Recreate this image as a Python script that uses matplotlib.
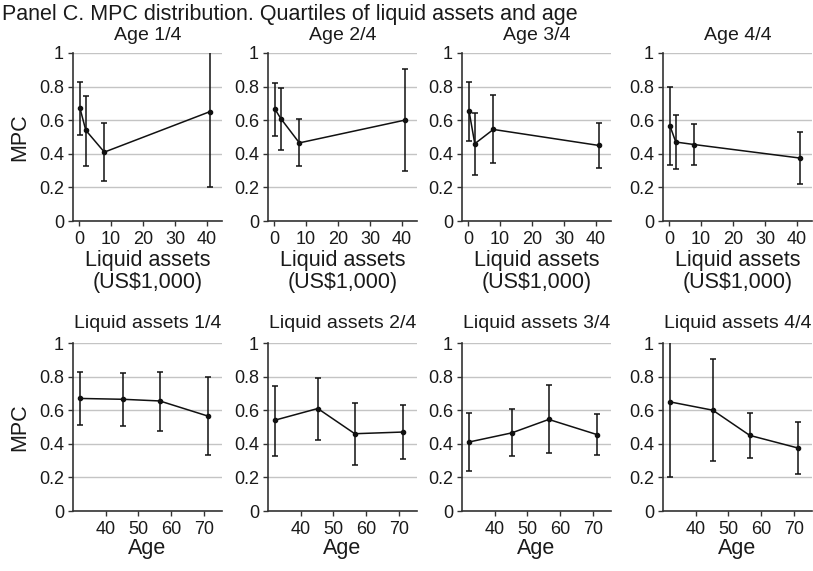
import matplotlib
matplotlib.use("Agg")
import matplotlib.pyplot as plt
import numpy as np

plt.rcParams['font.family'] = ['Liberation Sans', 'DejaVu Sans']

# Data: rows = age quartile (1..4), cols = liquid-asset quartile (1..4)
asset_x = [0.3, 2.1, 7.9, 40.8]          # liquid assets (US$1,000) at quartile means
age_x = [32.0, 45.2, 56.5, 71.2]          # age at quartile means

mpc = [
    [0.670, 0.540, 0.410, 0.650],
    [0.665, 0.610, 0.465, 0.600],
    [0.655, 0.460, 0.545, 0.450],
    [0.565, 0.470, 0.455, 0.375],
]
mpc_lo = [
    [0.510, 0.330, 0.240, 0.200],
    [0.505, 0.425, 0.325, 0.300],
    [0.475, 0.275, 0.345, 0.315],
    [0.335, 0.310, 0.335, 0.220],
]
mpc_hi = [
    [0.825, 0.745, 0.585, 1.100],
    [0.820, 0.790, 0.605, 0.905],
    [0.830, 0.645, 0.750, 0.585],
    [0.795, 0.630, 0.580, 0.530],
]

title = "Panel C. MPC distribution. Quartiles of liquid assets and age"
top_titles = ["Age 1/4", "Age 2/4", "Age 3/4", "Age 4/4"]
bot_titles = ["Liquid assets 1/4", "Liquid assets 2/4", "Liquid assets 3/4", "Liquid assets 4/4"]
yticks = [0, 0.2, 0.4, 0.6, 0.8, 1]
ytick_labels = ["0", "0.2", "0.4", "0.6", "0.8", "1"]
asset_ticks = [0, 10, 20, 30, 40]
age_ticks = [40, 50, 60, 70]

mpc = np.array(mpc); mpc_lo = np.array(mpc_lo); mpc_hi = np.array(mpc_hi)

W, H = 813, 571
fig = plt.figure(figsize=(W / 100, H / 100), dpi=100)

lefts = [73, 268, 462, 663]
axw = 149
axh = 168
tops = [53, 343]

txt = '#1a1a1a'
spine_c = '#333333'

def style(ax):
    ax.set_ylim(0, 1)
    ax.set_yticks(yticks)
    ax.set_yticklabels(ytick_labels)
    for s in ['top', 'right']:
        ax.spines[s].set_visible(False)
    for s in ['left', 'bottom']:
        ax.spines[s].set_color(spine_c)
        ax.spines[s].set_linewidth(1.2)
    ax.grid(axis='y', color='#c4c4c4', linewidth=1.0)
    ax.set_axisbelow(True)
    ax.tick_params(direction='out', length=3.5, width=1.0, color=spine_c,
                   labelsize=13, labelcolor=txt, pad=3)
    ax.tick_params(axis='x', pad=4)

for r in range(2):
    for c in range(4):
        l = lefts[c]
        t = tops[r]
        ax = fig.add_axes([l / W, 1 - (t + axh) / H, axw / W, axh / H])
        style(ax)
        if r == 0:
            y = mpc[c, :]; lo = mpc_lo[c, :]; hi = mpc_hi[c, :]
            x = asset_x
            ax.set_xlim(-1.9, 44.7)
            ax.set_xticks(asset_ticks)
            ax.set_title(top_titles[c], fontsize=14, color=txt, pad=9)
            ax.set_xlabel("Liquid assets\n(US$1,000)", fontsize=15.5, color=txt,
                          labelpad=1, linespacing=1.05)
        else:
            y = mpc[:, c]; lo = mpc_lo[:, c]; hi = mpc_hi[:, c]
            x = age_x
            ax.set_xlim(30, 75.5)
            ax.set_xticks(age_ticks)
            ax.set_title(bot_titles[c], fontsize=14, color=txt, pad=11)
            ax.set_xlabel("Age", fontsize=15.5, color=txt, labelpad=0)
        ax.errorbar(x, y, yerr=[y - lo, hi - y], fmt='o-', color='#111111',
                    markersize=3, linewidth=1.1, elinewidth=1.1, capsize=2.3,
                    capthick=1.1)
        if c == 0:
            ax.set_ylabel("MPC", fontsize=15.5, color=txt, labelpad=6)

fig.text(0.002, 1 - 20 / H, title, fontsize=15.5, color=txt, ha='left', va='baseline')

fig.savefig("out.png", dpi=100)
